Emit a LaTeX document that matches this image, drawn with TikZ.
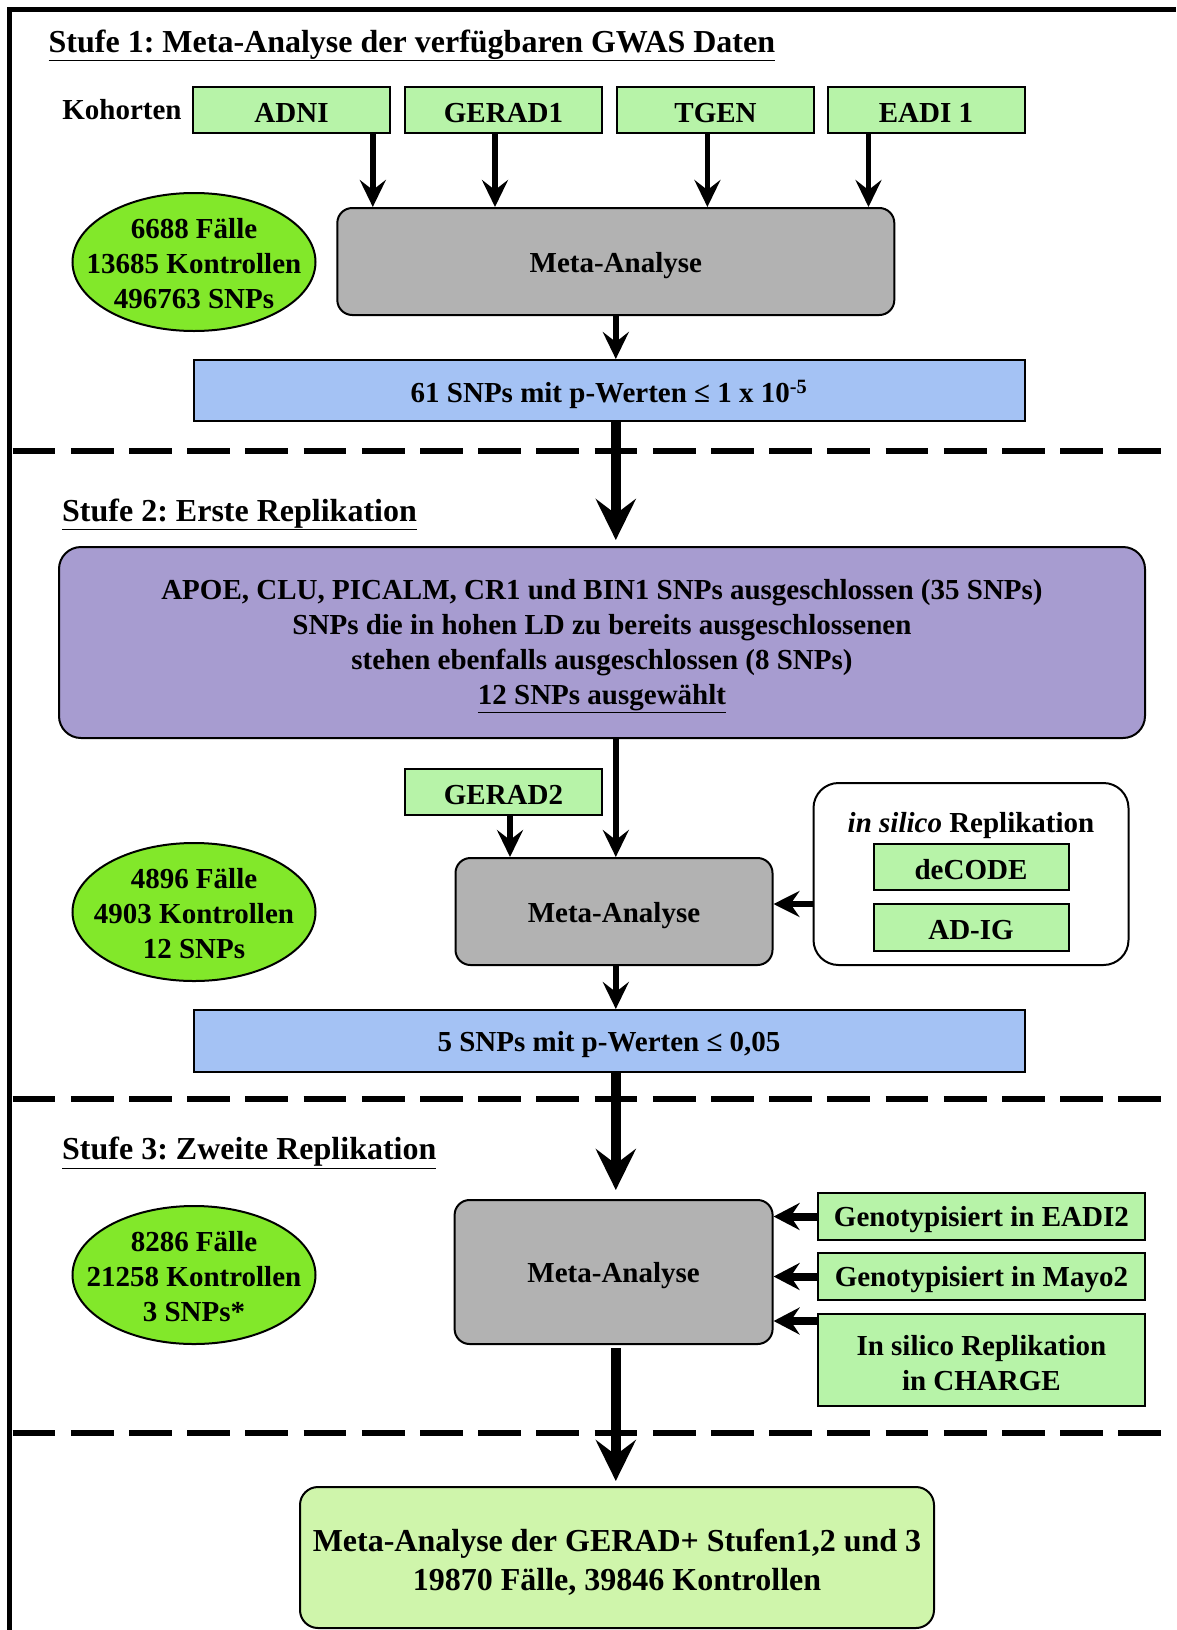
\documentclass[tikz,border=0pt]{standalone}
\usepackage{fontspec}
\setmainfont{Liberation Serif}
\usetikzlibrary{arrows.meta,shapes.geometric}
\definecolor{cohort}{RGB}{183,243,168}
\definecolor{ellgreen}{RGB}{130,232,42}
\definecolor{metagray}{RGB}{178,178,178}
\definecolor{resblue}{RGB}{164,194,244}
\definecolor{purp}{RGB}{167,156,208}
\definecolor{finalgreen}{RGB}{207,245,171}
\frenchspacing
\begin{document}
\begin{tikzpicture}[x=1pt,y=-1pt,
  txt/.style={font=\fontsize{29}{35}\selectfont\bfseries, align=center, text=black, inner sep=0pt},
  bigtxt/.style={font=\fontsize{32}{39}\selectfont\bfseries, align=center, text=black, inner sep=0pt},
  title/.style={font=\fontsize{32}{38}\selectfont\bfseries, anchor=base west, inner sep=0pt},
  cohortbox/.style={draw, line width=2pt, fill=cohort, inner sep=0pt, minimum width=197pt, minimum height=46pt},
  metabox/.style={draw, line width=2pt, fill=metagray, rounded corners=15pt, inner sep=0pt},
  infoell/.style={ellipse, draw, line width=2pt, fill=ellgreen, minimum width=243pt, minimum height=138pt, inner sep=0pt},
  resbox/.style={draw, line width=2pt, fill=resblue, minimum width=831pt, minimum height=61pt, inner sep=0pt},
  thinarrow/.style={line width=5.5pt, -{Stealth[length=27pt,width=26pt,inset=10pt]}},
  sidearrow/.style={line width=8pt, -{Stealth[length=26pt,width=27pt,inset=9pt]}},
  thickarrow/.style={line width=9.5pt, -{Stealth[length=41pt,width=40pt,inset=15pt]}},
  sepline/.style={line width=6pt, dash pattern=on 42.8pt off 15.4pt},
]
\useasboundingbox (0,0) rectangle (1176,1630);
% frame
\draw[line width=4.5pt] (9.5,1630) -- (9.5,9.5) -- (1176,9.5);
% separators
\draw[sepline] (12.6,451) -- (1176,451);
\draw[sepline] (12.6,1099) -- (1176,1099);
\draw[sepline] (12.6,1433) -- (1176,1433);

% ---------- Stufe 1
\node[title] (t1) at (48.5,52) {\underline{Stufe 1: Meta-Analyse der verfügbaren GWAS Daten}};
\node[txt] (koh) at (122,110) {Kohorten};
\node[cohortbox] (adni) at (291.5,110) {};
\node[txt] (adnit) at ([yshift=-3pt]adni.center) {ADNI};
\node[cohortbox] (gerad1) at (503.5,110) {};
\node[txt] (gerad1t) at ([yshift=-3pt]gerad1.center) {GERAD1};
\node[cohortbox] (tgen) at (715.5,110) {};
\node[txt] (tgent) at ([yshift=-3pt]tgen.center) {TGEN};
\node[cohortbox] (eadi1) at (926,110) {};
\node[txt] (eadi1t) at ([yshift=-3pt]eadi1.center) {EADI 1};
\node[metabox, minimum width=557pt, minimum height=107pt] (meta1) at (615.8,261.5) {};
\node[txt] (meta1t) at ([yshift=-4pt]meta1.center) {Meta-Analyse};
\node[infoell] (ell1) at (194,262) {};
\node[txt] (ell1t) at ([yshift=-2pt]ell1.center) {6688 Fälle\\13685 Kontrollen\\496763 SNPs};
\node[resbox] (blue1) at (609,390.5) {};
\node[txt] (blue1t) at ([yshift=-4pt]blue1.center) {61 SNPs mit p-Werten ≤ 1 x 10\textsuperscript{-5}};
\path ([xshift=81.3pt]adni.south) coordinate (c1)
      ([xshift=-8.5pt]gerad1.south) coordinate (c2)
      ([xshift=-8.1pt]tgen.south) coordinate (c3)
      ([xshift=-57.5pt]eadi1.south) coordinate (c4);
\foreach \c in {c1,c2,c3,c4} \draw[thinarrow] (\c) -- (\c |- meta1.north);
\draw[thinarrow] (meta1.south) -- (meta1.south |- blue1.north);

% ---------- Stufe 2
\node[title] (t2) at (62,521) {\underline{Stufe 2: Erste Replikation}};
\node[draw, line width=2pt, fill=purp, rounded corners=22pt, minimum width=1086pt, minimum height=191pt, inner sep=0pt] (purple) at (602,642.5) {};
\node[txt] (purplet) at ([yshift=-4pt]purple.center)
  {APOE, CLU, PICALM, CR1 und BIN1 SNPs ausgeschlossen (35 SNPs)\\SNPs die in hohen LD zu bereits ausgeschlossenen\\stehen ebenfalls ausgeschlossen (8 SNPs)\\\underline{12 SNPs ausgewählt}};
\draw[thickarrow, shorten >=6pt] (blue1.south -| meta1.south) -- (purple.north -| meta1.south);
\node[cohortbox] (gerad2) at (503.5,792) {};
\node[txt] (gerad2t) at ([yshift=-3pt]gerad2.center) {GERAD2};
\node[metabox, minimum width=317pt, minimum height=107pt] (meta2) at (614,911.5) {};
\node[txt] (meta2t) at ([yshift=-4pt]meta2.center) {Meta-Analyse};
\node[infoell] (ell2) at (194,912) {};
\node[txt] (ell2t) at ([yshift=-2pt]ell2.center) {4896 Fälle\\4903 Kontrollen\\12 SNPs};
\node[draw, line width=2pt, fill=white, rounded corners=25pt, minimum width=315pt, minimum height=182pt] (insilico) at (971,874) {};
\node[txt] (islabel) at (971,826) {\textit{in silico} Replikation};
\node[cohortbox, minimum width=195pt] (decode) at (971,867) {};
\node[txt] (decodet) at ([yshift=-3pt]decode.center) {deCODE};
\node[cohortbox, minimum width=195pt, minimum height=47pt] (adig) at (971,927.5) {};
\node[txt] (adigt) at ([yshift=-3pt]adig.center) {AD-IG};
\node[resbox, minimum height=62pt] (blue2) at (609,1041) {};
\node[txt] (blue2t) at ([yshift=-4pt]blue2.center) {5 SNPs mit p-Werten ≤ 0,05};
\path ([xshift=6.5pt]gerad2.south) coordinate (g2);
\draw[thinarrow] (g2) -- (g2 |- meta2.north);
\draw[thinarrow] (purple.south -| meta1.south) -- (meta2.north -| meta1.south);
\path ([yshift=-30pt]insilico.west) coordinate (is);
\draw[line width=6pt, -{Stealth[length=26pt,width=26pt,inset=9pt]}] (is) -- (is -| meta2.east);
\draw[thinarrow] (meta2.south -| meta1.south) -- (blue2.north -| meta1.south);

% ---------- Stufe 3
\node[title] (t3) at (62,1159.5) {\underline{Stufe 3: Zweite Replikation}};
\node[metabox, minimum width=318pt, minimum height=144pt] (meta3) at (613.6,1272) {};
\node[txt] (meta3t) at ([yshift=-4pt]meta3.center) {Meta-Analyse};
\draw[thickarrow, shorten >=9pt] (blue2.south -| meta1.south) -- (meta3.north -| meta1.south);
\node[infoell] (ell3) at (194,1275) {};
\node[txt] (ell3t) at ([yshift=-2pt]ell3.center) {8286 Fälle\\21258 Kontrollen\\3 SNPs*};
\node[cohortbox, minimum width=327pt, minimum height=47pt] (eadi2) at (981.4,1216.5) {};
\node[txt] (eadi2t) at ([yshift=-3pt]eadi2.center) {Genotypisiert in EADI2};
\node[cohortbox, minimum width=327pt, minimum height=47pt] (mayo2) at (981.4,1276.5) {};
\node[txt] (mayo2t) at ([yshift=-3pt]mayo2.center) {Genotypisiert in Mayo2};
\node[cohortbox, minimum width=327pt, minimum height=92pt] (charge) at (981.4,1360) {};
\node[txt] (charget) at ([yshift=-3pt]charge.center) {In silico Replikation\\in CHARGE};
\draw[sidearrow] (eadi2.west) -- (eadi2.west -| meta3.east);
\draw[sidearrow] (mayo2.west) -- (mayo2.west -| meta3.east);
\path ([yshift=-8pt]charge.north west) coordinate (ch);
\draw[sidearrow] (ch) -- (ch -| meta3.east);

% ---------- final
\node[draw, line width=2pt, fill=finalgreen, rounded corners=18pt, minimum width=634pt, minimum height=141pt, inner sep=0pt] (final) at (617,1557.5) {};
\node[bigtxt] (finalt) at ([yshift=-5pt]final.center)
  {Meta-Analyse der GERAD+ Stufen1,2 und 3\\19870 Fälle, 39846 Kontrollen};
\draw[thickarrow, shorten <=3pt, shorten >=5pt] (meta3.south -| meta1.south) -- (final.north -| meta1.south);
\end{tikzpicture}
\end{document}
